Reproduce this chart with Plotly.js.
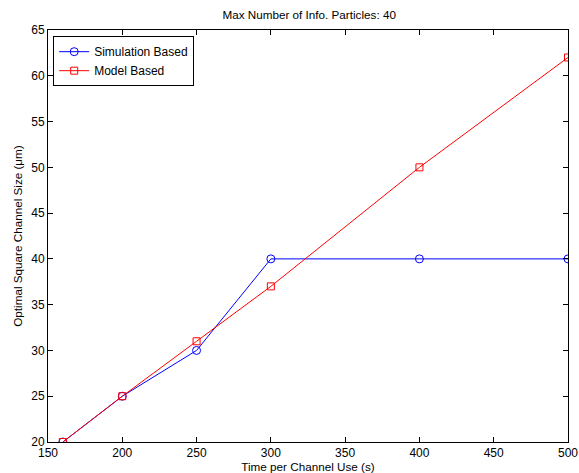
<!DOCTYPE html>
<html>
<head>
<meta charset="utf-8">
<script src="https://cdn.plot.ly/plotly-3.0.1.min.js"></script>
<style>html,body{margin:0;padding:0;background:#fff;}#chart{width:579px;height:473px;}</style>
</head>
<body>
<div id="chart"></div>
<script>
const timePerUse = [160, 200, 250, 300, 400, 500];
const simulationBased = [20, 25, 30, 40, 40, 40];
const modelBased = [20, 25, 31, 37, 50, 62];
const xTicks = [150, 200, 250, 300, 350, 400, 450, 500];
const yTicks = [20, 25, 30, 35, 40, 45, 50, 55, 60, 65];

const fontFam = 'Liberation Sans, Arial, Helvetica, sans-serif';
const traces = [
  {x: timePerUse, y: simulationBased, name: 'Simulation Based', mode: 'lines+markers', type: 'scatter',
   line: {color: '#0000ff', width: 1}, marker: {symbol: 'circle-open', size: 8, color: '#0000ff', line: {width: 1}}},
  {x: timePerUse, y: modelBased, name: 'Model Based', mode: 'lines+markers', type: 'scatter',
   line: {color: '#ff0000', width: 1}, marker: {symbol: 'square-open', size: 7, color: '#ff0000', line: {width: 1}}}
];
const axisCommon = {showgrid: false, zeroline: false, showline: true, linecolor: '#000', linewidth: 1,
  ticks: 'inside', ticklen: 5, tickcolor: '#000', mirror: 'ticks', tickfont: {family: fontFam, size: 12, color: '#000'}};
const layout = {
  width: 579, height: 473,
  margin: {l: 48, r: 11, t: 30, b: 31},
  paper_bgcolor: '#fff', plot_bgcolor: '#fff',
  font: {family: fontFam, size: 12, color: '#000'},
  title: {text: 'Max Number of Info. Particles: 40', font: {family: fontFam, size: 11.7, color: '#000'}, x: 0.534, xanchor: 'center', y: 0.968, yanchor: 'middle'},
  xaxis: Object.assign({}, axisCommon, {range: [150, 500], tickvals: xTicks, ticktext: xTicks.map(String),
    title: {text: 'Time per Channel Use (s)', font: {family: fontFam, size: 11.7, color: '#000'}, standoff: 0}}),
  yaxis: Object.assign({}, axisCommon, {range: [20, 65], tickvals: yTicks, ticktext: yTicks.map(String),
    title: {text: 'Optimal Square Channel Size (μm)', font: {family: fontFam, size: 11.7, color: '#000'}, standoff: 6}}),
  showlegend: true,
  legend: {x: 0.01, y: 0.985, xanchor: 'left', yanchor: 'top', bordercolor: '#000', borderwidth: 1, bgcolor: '#fff',
    font: {family: fontFam, size: 12, color: '#000'}, tracegroupgap: 0, itemwidth: 30}
};
Plotly.newPlot('chart', traces, layout, {displayModeBar: false, staticPlot: true});
</script>
</body>
</html>
